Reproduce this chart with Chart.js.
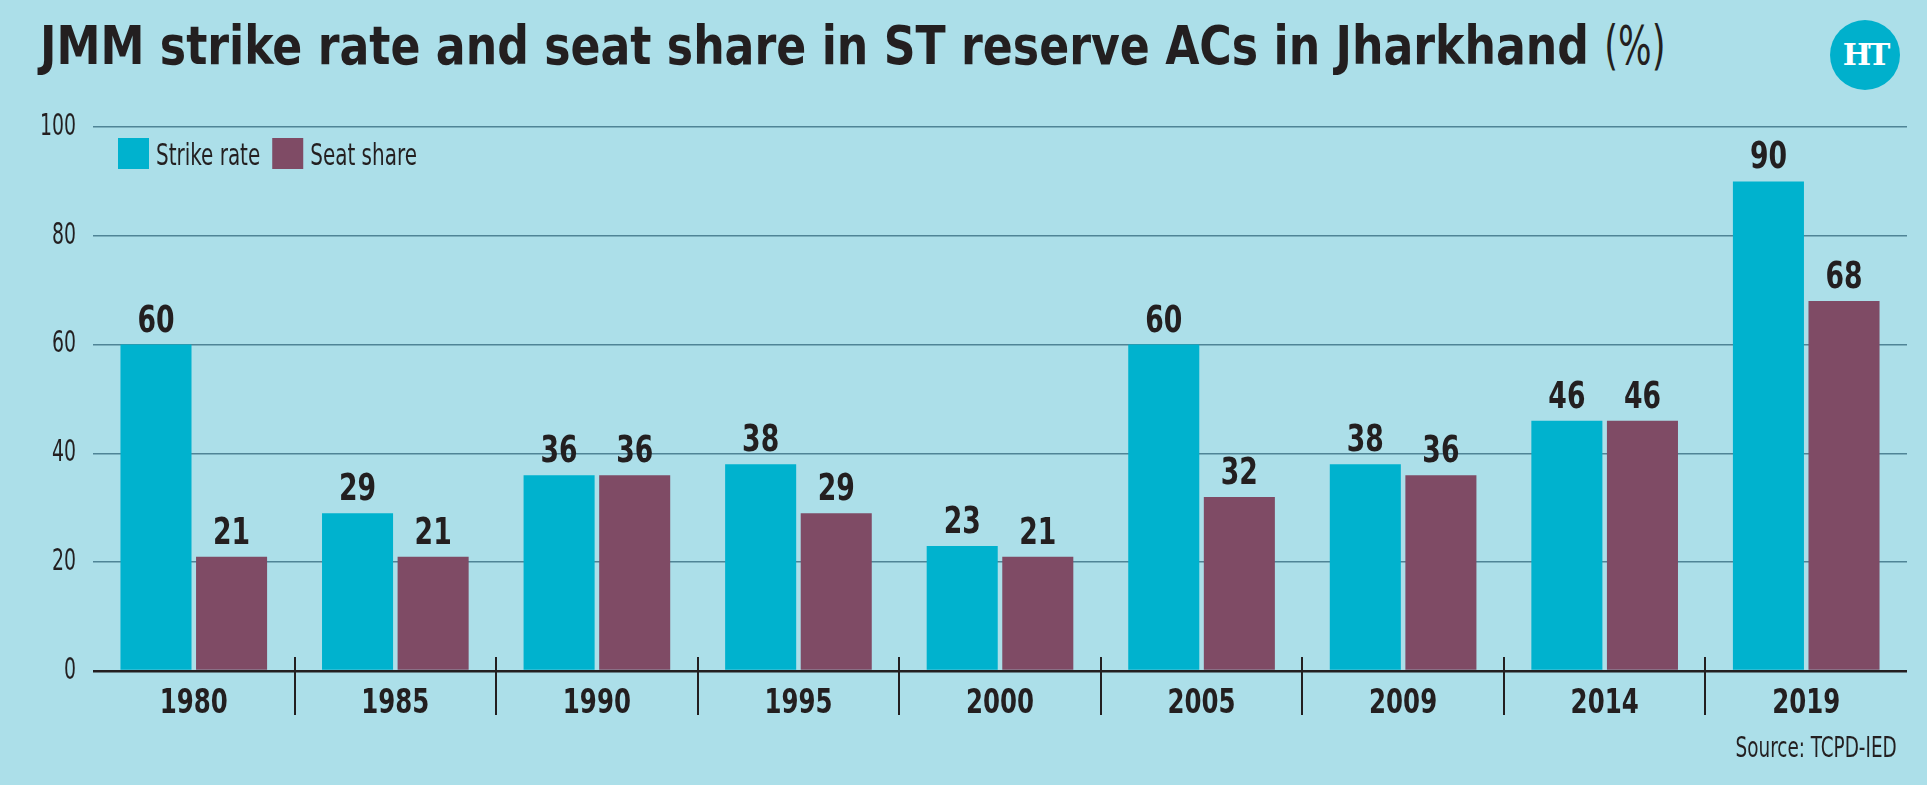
<!DOCTYPE html>
<html>
<head>
<meta charset="utf-8">
<script src="https://cdn.jsdelivr.net/npm/chart.js@4.4.1/dist/chart.umd.min.js"></script>
<style>
  html, body { margin: 0; padding: 0; background: #acdfe9; }
  #wrap { position: relative; width: 1927px; height: 785px; overflow: hidden; background: #acdfe9; }
  #title {
    position: absolute; left: 40px; top: 10px; white-space: nowrap;
    font-family: 'DejaVu Sans Condensed', 'Liberation Sans Narrow', sans-serif;
    font-size: 54px; line-height: 72px; color: #231f20; font-weight: bold;
    transform: scaleX(0.91); transform-origin: 0 0;
  }
  #title span { font-weight: normal; display: inline-block; transform: scaleX(0.8); transform-origin: 0 0; }
  #logo {
    position: absolute; left: 1830px; top: 20px; width: 70px; height: 70px; border-radius: 50%;
    background: #00b0cc; color: #fff; text-align: center; line-height: 70px;
    font-family: 'DejaVu Serif', serif; font-weight: bold; font-size: 30px; letter-spacing: -3px;
  }
  #source {
    position: absolute; right: 30px; top: 731px;
    font-family: 'DejaVu Sans Condensed', 'Liberation Sans Narrow', sans-serif;
    font-size: 28px; color: #231f20; transform: scaleX(0.73); transform-origin: 100% 0;
  }
  canvas { position: absolute; left: 0; top: 0; }
</style>
</head>
<body>
<div id="wrap">
  <div id="title">JMM strike rate and seat share in ST reserve ACs in Jharkhand <span>(%)</span></div>
  <div id="logo">HT</div>
  <canvas id="chart" width="1927" height="785"></canvas>
  <div id="source">Source: TCPD-IED</div>
</div>
<script>
// chart data
const years = ['1980', '1985', '1990', '1995', '2000', '2005', '2009', '2014', '2019'];
const strikeRate = [60, 29, 36, 38, 23, 60, 38, 46, 90];
const seatShare = [21, 21, 36, 29, 21, 32, 36, 46, 68];
const yTicks = [0, 20, 40, 60, 80, 100];

const FONT = "'DejaVu Sans Condensed', 'Liberation Sans Narrow', sans-serif";
const INK = '#231f20';

// draw text squeezed horizontally, to get closer to the narrow font of the original
function narrowText(ctx, text, x, y, sx) {
    ctx.save();
    ctx.translate(x, y);
    ctx.scale(sx, 1);
    ctx.fillText(text, 0, 0);
    ctx.restore();
}

// value labels above each bar
const barLabels = {
    id: 'barLabels',
    afterDatasetsDraw(chart) {
        const ctx = chart.ctx;
        ctx.save();
        ctx.font = 'bold 38px ' + FONT;
        ctx.fillStyle = INK;
        ctx.textAlign = 'center';
        ctx.textBaseline = 'alphabetic';
        chart.data.datasets.forEach((ds, i) => {
            chart.getDatasetMeta(i).data.forEach((bar, j) => {
                narrowText(ctx, String(ds.data[j]), bar.x, bar.y - 13, 0.78);
            });
        });
        ctx.restore();
    }
};

// axis labels, dividers between year groups and the legend
const axisText = {
    id: 'axisText',
    afterDraw(chart) {
        const ctx = chart.ctx;
        const x = chart.scales.x;
        const y = chart.scales.y;
        const area = chart.chartArea;
        ctx.save();
        ctx.fillStyle = INK;

        // year labels
        ctx.font = 'bold 34px ' + FONT;
        ctx.textAlign = 'center';
        ctx.textBaseline = 'alphabetic';
        years.forEach((yr, i) => {
            narrowText(ctx, yr, x.getPixelForValue(i), area.bottom + 42, 0.8);
        });

        // y tick labels
        ctx.font = '30px ' + FONT;
        ctx.textAlign = 'right';
        ctx.textBaseline = 'middle';
        yTicks.forEach(v => {
            narrowText(ctx, String(v), area.left - 17, y.getPixelForValue(v), 0.7);
        });

        // dividers
        ctx.strokeStyle = INK;
        ctx.lineWidth = 2;
        for (let i = 1; i < years.length; i++) {
            const px = Math.round((x.getPixelForValue(i - 1) + x.getPixelForValue(i)) / 2);
            ctx.beginPath();
            ctx.moveTo(px, area.bottom - 14);
            ctx.lineTo(px, area.bottom + 44);
            ctx.stroke();
        }

        // legend
        ctx.font = '30px ' + FONT;
        ctx.textAlign = 'left';
        ctx.textBaseline = 'alphabetic';
        let lx = area.left + 25;
        const ly = area.top + 11;
        chart.data.datasets.forEach(ds => {
            ctx.fillStyle = ds.backgroundColor;
            ctx.fillRect(lx, ly, 31, 31);
            ctx.fillStyle = INK;
            narrowText(ctx, ds.label, lx + 38, ly + 27, 0.74);
            lx += 38 + ctx.measureText(ds.label).width * 0.74 + 12;
        });
        ctx.restore();
    }
};

const ctx = document.getElementById('chart').getContext('2d');
new Chart(ctx, {
    type: 'bar',
    data: {
        labels: years,
        datasets: [{
            label: 'Strike rate',
            data: strikeRate,
            backgroundColor: '#00b2ce',
            barPercentage: 0.94,
            categoryPercentage: 0.75
        }, {
            label: 'Seat share',
            data: seatShare,
            backgroundColor: '#7f4b65',
            barPercentage: 0.94,
            categoryPercentage: 0.75
        }]
    },
    options: {
        responsive: false,
        animation: false,
        layout: { padding: { left: 0, top: 127, right: 20, bottom: 0 } },
        scales: {
            x: {
                grid: { display: false },
                border: { display: false },
                ticks: { display: false },
                afterFit: s => { s.height = 114; }
            },
            y: {
                min: 0,
                max: 100,
                afterBuildTicks: s => { s.ticks = yTicks.map(v => ({ value: v })); },
                grid: {
                    drawTicks: false,
                    color: c => c.tick.value === 0 ? INK : '#4f8496',
                    lineWidth: c => c.tick.value === 0 ? 2.5 : 1.5
                },
                border: { display: false },
                ticks: { display: false },
                afterFit: s => { s.width = 93; }
            }
        },
        plugins: {
            legend: { display: false },
            title: { display: false },
            tooltip: { enabled: false }
        }
    },
    plugins: [barLabels, axisText]
});
</script>
</body>
</html>
